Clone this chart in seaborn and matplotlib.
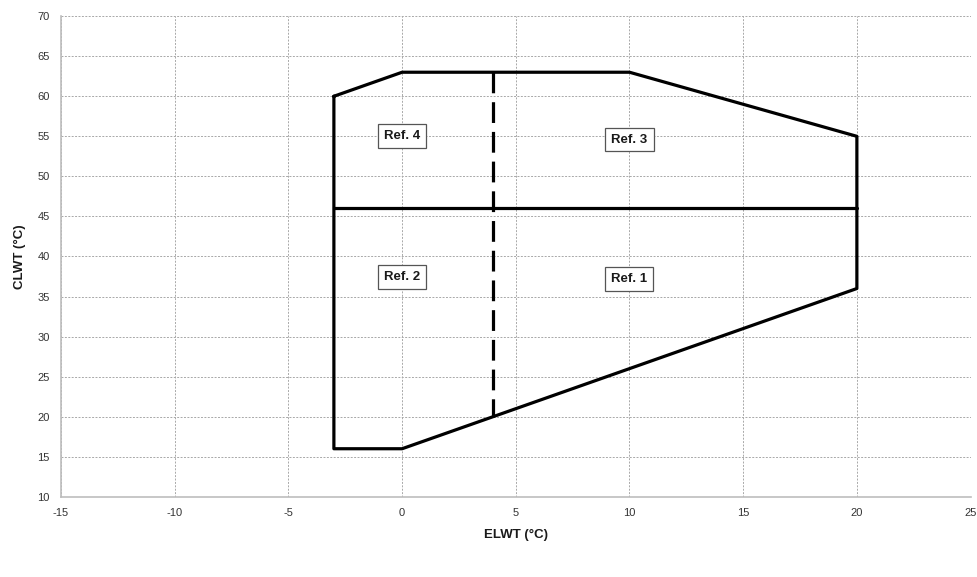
import numpy as np
import pandas as pd
import seaborn as sns
import matplotlib.pyplot as plt

# envelope outline (ELWT, CLWT), closed
elwt_outline = [-3, 0, 10, 20, 20, 0, -3, -3]
clwt_outline = [60, 63, 63, 55, 36, 16, 16, 60]

# solid split line at CLWT 46
elwt_split = [-3, 20]
clwt_split = [46, 46]

# dashed split line at ELWT 4 (drawn top-down)
elwt_dash = [4, 4]
clwt_dash = [63, 20]

# region labels
ref_labels = ['Ref. 4', 'Ref. 3', 'Ref. 2', 'Ref. 1']
ref_x = [0, 10, 0, 10]
ref_y = [55, 54.6, 37.4, 37.2]

x_ticks = list(range(-15, 30, 5))
y_ticks = list(range(10, 75, 5))

sns.set_style("white")
plt.rcParams['font.family'] = ['Liberation Sans', 'DejaVu Sans']
plt.rcParams['axes.unicode_minus'] = False

fig = plt.figure(figsize=(9.78, 5.77), dpi=100)
ax = fig.add_axes([0.0624, 0.139, 0.930, 0.833])

outline = pd.DataFrame({'ELWT': elwt_outline, 'CLWT': clwt_outline})
split = pd.DataFrame({'ELWT': elwt_split, 'CLWT': clwt_split})
dash = pd.DataFrame({'ELWT': elwt_dash, 'CLWT': clwt_dash})

sns.lineplot(data=outline, x='ELWT', y='CLWT', sort=False, estimator=None,
             color='black', linewidth=2.3, ax=ax)
sns.lineplot(data=split, x='ELWT', y='CLWT', sort=False, estimator=None,
             color='black', linewidth=2.3, ax=ax)
ax.plot(dash['ELWT'], dash['CLWT'], color='black', linewidth=2.3,
        dashes=(6.5, 2.8))

for lab, xx, yy in zip(ref_labels, ref_x, ref_y):
    ax.text(xx, yy, lab, ha='center', va='center', fontsize=9.5,
            fontweight='bold', color='#1a1a1a', zorder=5,
            bbox=dict(boxstyle='square,pad=0.45', fc='white', ec='#555555', lw=0.9))

ax.set_xlim(-15, 25)
ax.set_ylim(10, 70)
ax.set_xticks(x_ticks)
ax.set_yticks(y_ticks)
ax.grid(True, color='#a8a8a8', linestyle=(0, (2, 1.5)), linewidth=0.7)
ax.set_axisbelow(True)

for s in ['top', 'right']:
    ax.spines[s].set_visible(False)
for s in ['left', 'bottom']:
    ax.spines[s].set_color('#bdbdbd')
    ax.spines[s].set_linewidth(1.2)

ax.tick_params(axis='both', labelsize=8, colors='#bdbdbd', labelcolor='#333333',
               length=5, width=1, direction='out', pad=3)

ax.set_xlabel('ELWT (°C)', fontsize=9.5, fontweight='bold', color='#1a1a1a', labelpad=8)
ax.set_ylabel('CLWT (°C)', fontsize=9.5, fontweight='bold', color='#1a1a1a', labelpad=8)

fig.savefig('out.png', dpi=100)
